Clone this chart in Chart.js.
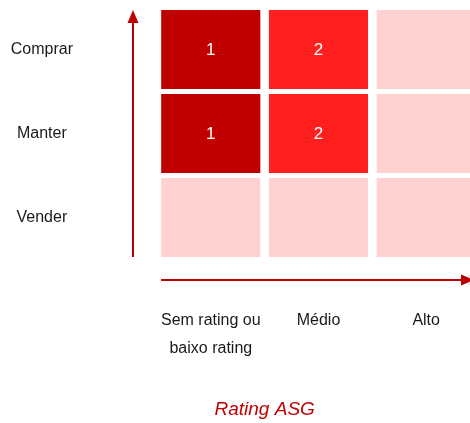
<!DOCTYPE html>
<html>
<head>
<meta charset="utf-8">
<script src="https://cdn.jsdelivr.net/npm/chart.js@4.4.1/dist/chart.umd.min.js"></script>
<style>
  html, body { margin: 0; padding: 0; background: #fff; overflow: hidden; }
  #wrap { width: 470px; height: 423px; overflow: hidden; }
</style>
</head>
<body>
<div id="wrap"><canvas id="matrix" width="480" height="423"></canvas></div>
<script>
// Rating ASG (columns) x recommendation (rows, top to bottom)
const ratings = [['Sem rating ou', 'baixo rating'], 'Médio', 'Alto'];
const recommendations = ['Comprar', 'Manter', 'Vender'];
const comprarCounts = [1, 2, 0];
const manterCounts = [1, 2, 0];
const venderCounts = [0, 0, 0];
const axisTitle = 'Rating ASG';

const rowCounts = [comprarCounts, manterCounts, venderCounts];

// colour of a cell depends on how many names sit in it
const cellColor = count => count === 1 ? '#c00000' : count === 2 ? '#ff1f1f' : '#ffd1d1';
const arrowColor = '#c00000';

const datasets = rowCounts.map((counts, r) => {
    const base = recommendations.length - 1 - r;
    return {
        label: recommendations[r],
        data: counts.map(() => [base, base + 1]),
        counts: counts,
        backgroundColor: counts.map(cellColor),
        borderColor: '#ffffff',
        borderWidth: { top: 2.5, bottom: 2.5, left: 0, right: 0 },
        borderSkipped: false,
        grouped: false,
        barPercentage: 0.924,
        categoryPercentage: 1
    };
});

// arrows, axis title and the numbers inside the cells
const decorations = {
    id: 'decorations',
    afterDatasetsDraw(chart) {
        const { ctx, chartArea: area, scales } = chart;
        ctx.save();

        ctx.fillStyle = '#ffffff';
        ctx.font = '17px "Liberation Sans", Arial, sans-serif';
        ctx.textAlign = 'center';
        ctx.textBaseline = 'middle';
        chart.data.datasets.forEach((ds, i) => {
            chart.getDatasetMeta(i).data.forEach((bar, j) => {
                if (!ds.counts[j]) return;
                const p = bar.getCenterPoint();
                ctx.fillText(String(ds.counts[j]), p.x, p.y + 1);
            });
        });

        ctx.strokeStyle = arrowColor;
        ctx.fillStyle = arrowColor;
        ctx.lineWidth = 2;

        // vertical arrow
        const vx = area.left - 24;
        const top = area.top + 2.5;
        ctx.beginPath();
        ctx.moveTo(vx, area.bottom - 2.5);
        ctx.lineTo(vx, top + 10);
        ctx.stroke();
        ctx.beginPath();
        ctx.moveTo(vx, top);
        ctx.lineTo(vx - 5.5, top + 13);
        ctx.lineTo(vx + 5.5, top + 13);
        ctx.closePath();
        ctx.fill();

        // horizontal arrow
        const hy = area.bottom + 20.5;
        const tip = area.right - 6;
        ctx.beginPath();
        ctx.moveTo(area.left + 4, hy);
        ctx.lineTo(tip - 10, hy);
        ctx.stroke();
        ctx.beginPath();
        ctx.moveTo(tip, hy);
        ctx.lineTo(tip - 13, hy - 5.5);
        ctx.lineTo(tip - 13, hy + 5.5);
        ctx.closePath();
        ctx.fill();

        // axis title, centred between the first two columns
        ctx.font = 'italic 19px "Liberation Sans", Arial, sans-serif';
        ctx.fillText(axisTitle, scales.x.getPixelForValue(0.5), 410);

        ctx.restore();
    }
};

new Chart(document.getElementById('matrix'), {
    type: 'bar',
    data: { labels: ratings, datasets: datasets },
    options: {
        responsive: false,
        animation: false,
        layout: { padding: { left: 11, top: 7.5, right: 0, bottom: 0 } },
        plugins: {
            legend: { display: false },
            tooltip: { enabled: false }
        },
        scales: {
            x: {
                grid: { display: false, drawTicks: false },
                border: { display: false },
                ticks: {
                    color: '#1a1a1a',
                    padding: 47,
                    font: { family: '"Liberation Sans", Arial, sans-serif', size: 16, lineHeight: 1.75 }
                },
                afterFit: scale => {
                    scale.height = 163.5;
                    scale.paddingLeft = 0;
                    scale.paddingRight = 0;
                }
            },
            y: {
                min: 0,
                max: 3,
                grid: { display: false, drawTicks: false },
                border: { display: false },
                afterBuildTicks: scale => {
                    scale.ticks = recommendations.map((_, i) => ({ value: i + 0.5 }));
                },
                ticks: {
                    color: '#1a1a1a',
                    padding: 84,
                    crossAlign: 'center',
                    font: { family: '"Liberation Sans", Arial, sans-serif', size: 16 },
                    callback: value => recommendations[recommendations.length - 1 - Math.floor(value)]
                },
                afterFit: scale => {
                    scale.width = 146;
                    scale.paddingTop = 0;
                    scale.paddingBottom = 0;
                }
            }
        }
    },
    plugins: [decorations]
});
</script>
</body>
</html>
